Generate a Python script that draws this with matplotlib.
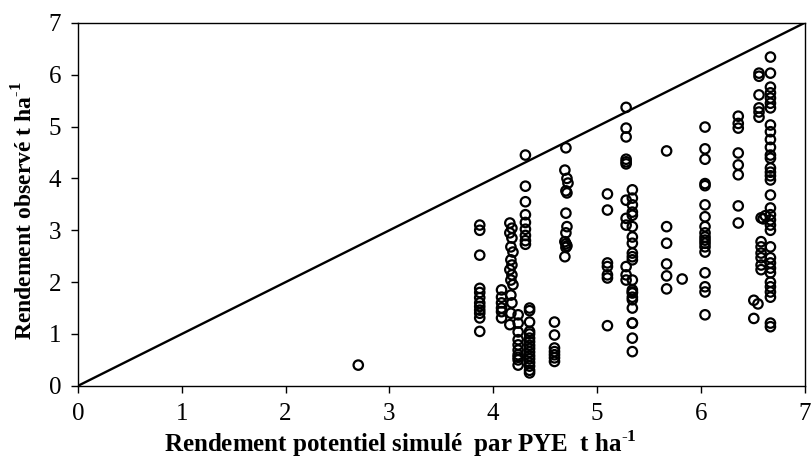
import matplotlib
matplotlib.use("Agg")
import matplotlib.pyplot as plt

plt.rcParams['font.family'] = ['Liberation Serif', 'DejaVu Serif']
plt.rcParams['mathtext.fontset'] = 'custom'
plt.rcParams['mathtext.rm'] = 'Liberation Serif'
plt.rcParams['mathtext.bf'] = 'Liberation Serif:bold'

# rendement potentiel simulé (x) et observé (y), lus colonne par colonne
x_270 = [2.70]
y_270 = [0.40]

x_387 = [3.87] * 12
y_387 = [3.10, 3.00, 2.52, 1.88, 1.80, 1.70, 1.60, 1.53, 1.46, 1.40, 1.31, 1.05]

x_408 = [4.08] * 6
y_408 = [1.85, 1.71, 1.60, 1.50, 1.43, 1.31]

x_417 = [4.16, 4.18, 4.16, 4.18, 4.17, 4.19, 4.17, 4.18, 4.16, 4.18, 4.17, 4.19, 4.17, 4.18, 4.17, 4.16]
y_417 = [3.14, 3.04, 2.95, 2.85, 2.68, 2.58, 2.43, 2.33, 2.24, 2.14, 2.04, 1.95, 1.75, 1.60, 1.40, 1.18]

x_425 = [4.24] * 10
y_425 = [1.37, 1.21, 1.04, 0.89, 0.79, 0.69, 0.60, 0.55, 0.50, 0.40]

x_431 = [4.31] * 9
y_431 = [4.45, 3.85, 3.55, 3.30, 3.15, 3.02, 2.90, 2.80, 2.73]

x_435 = [4.35] * 16
y_435 = [1.50, 1.45, 1.23, 1.05, 1.00, 0.92, 0.85, 0.78, 0.72, 0.65, 0.58, 0.52, 0.45, 0.38, 0.30, 0.25]

x_459 = [4.59] * 7
y_459 = [1.23, 0.98, 0.73, 0.66, 0.60, 0.54, 0.47]

x_470 = [4.70, 4.69, 4.71, 4.72, 4.70, 4.71, 4.70, 4.71, 4.70, 4.69, 4.70, 4.71, 4.70, 4.69]
y_470 = [4.59, 4.16, 4.00, 3.91, 3.76, 3.72, 3.33, 3.07, 2.95, 2.78, 2.74, 2.70, 2.67, 2.49]

x_510 = [5.10] * 7
y_510 = [3.70, 3.39, 2.37, 2.30, 2.14, 2.08, 1.16]

x_528 = [5.28] * 12
y_528 = [5.37, 4.97, 4.80, 4.37, 4.32, 4.28, 3.58, 3.23, 3.10, 2.30, 2.14, 2.04]

x_534 = [5.34] * 22
y_534 = [3.78, 3.62, 3.49, 3.35, 3.29, 3.07, 2.87, 2.75, 2.56, 2.49, 2.43, 2.04,
         1.85, 1.79, 1.71, 1.66, 1.50, 1.21, 1.21, 0.92, 0.66, 1.81]

x_567 = [5.67] * 6 + [5.82]
y_567 = [4.53, 3.07, 2.75, 2.35, 2.12, 1.87, 2.06]

x_604 = [6.04] * 18
y_604 = [4.99, 4.57, 4.37, 3.90, 3.86, 3.49, 3.26, 3.07, 2.95, 2.87, 2.81, 2.75,
         2.68, 2.58, 2.18, 1.91, 1.81, 1.37]

x_636 = [6.36] * 8
y_636 = [5.20, 5.06, 4.97, 4.49, 4.26, 4.07, 3.47, 3.14]

x_656 = [6.56, 6.56, 6.56, 6.56, 6.56, 6.56, 6.58, 6.62, 6.60, 6.58, 6.58, 6.58, 6.58, 6.58, 6.58,
         6.51, 6.55, 6.51]
y_656 = [6.03, 5.97, 5.61, 5.36, 5.28, 5.18, 3.24, 3.28, 3.22, 2.78, 2.68, 2.56, 2.47, 2.33, 2.24,
         1.65, 1.58, 1.30]

x_667 = [6.67] * 34
y_667 = [6.34, 6.03, 5.76, 5.65, 5.55, 5.45, 5.36, 5.03, 4.90, 4.75, 4.60, 4.45,
         4.39, 4.20, 4.12, 4.05, 3.97, 3.68, 3.43, 3.30, 3.20, 3.10, 3.00, 2.68,
         2.47, 2.37, 2.27, 2.18, 2.00, 1.91, 1.81, 1.71, 1.21, 1.14]

xs = (x_270 + x_387 + x_408 + x_417 + x_425 + x_431 + x_435 + x_459 + x_470 + x_510
      + x_528 + x_534 + x_567 + x_604 + x_636 + x_656 + x_667)
ys = (y_270 + y_387 + y_408 + y_417 + y_425 + y_431 + y_435 + y_459 + y_470 + y_510
      + y_528 + y_534 + y_567 + y_604 + y_636 + y_656 + y_667)

fig = plt.figure(figsize=(8.12, 4.66), dpi=100)
ax = fig.add_axes([0.096, 0.172, 0.895, 0.779])

ax.plot([0, 7], [0, 7], color='black', lw=1.7)
ax.scatter(xs, ys, s=46, facecolors='none', edgecolors='black', linewidths=1.6, zorder=3)

ax.set_xlim(0, 7)
ax.set_ylim(0, 7)
ax.set_xticks(range(8))
ax.set_yticks(range(8))
ax.tick_params(direction='out', length=5, width=1, labelsize=18, colors='black', pad=7)
for sp in ax.spines.values():
    sp.set_color('black')
    sp.set_linewidth(1)

ax.set_xlabel(r'Rendement potentiel simulé  par PYE  t ha$^{\text{-}\mathbf{1}}$',
              fontsize=18, fontweight='bold')
ax.xaxis.set_label_coords(0.444, -0.118)
ax.set_ylabel(r'Rendement observé t ha$^{\text{-}\mathbf{1}}$',
              fontsize=17, fontweight='bold')
ax.yaxis.set_label_coords(-0.056, 0.482)

fig.savefig('out.png', dpi=100)
